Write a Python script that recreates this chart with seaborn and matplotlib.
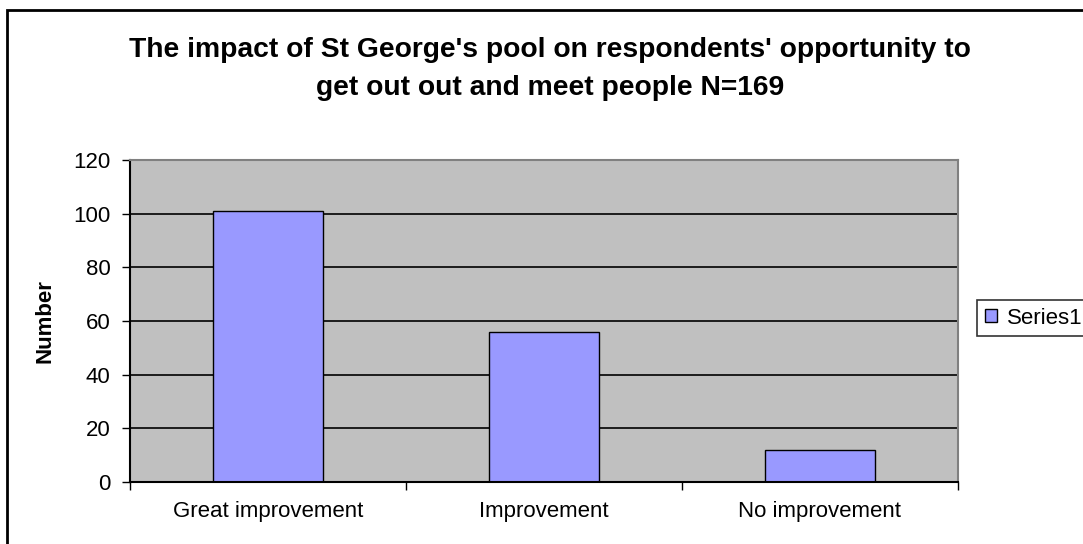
import matplotlib
matplotlib.use("Agg")
import matplotlib.pyplot as plt
import seaborn as sns
import pandas as pd
from matplotlib.patches import Rectangle

categories = ["Great improvement", "Improvement", "No improvement"]
values = [101, 56, 12]
series = ["Series1", "Series1", "Series1"]
y_ticks = [0, 20, 40, 60, 80, 100, 120]

df = pd.DataFrame({"category": categories, "count": values, "series": series})

sns.set_style("white")
plt.rcParams["font.family"] = ["Liberation Sans", "DejaVu Sans"]
plt.rcParams["text.color"] = "black"
plt.rcParams["axes.labelcolor"] = "black"
plt.rcParams["xtick.color"] = "black"
plt.rcParams["ytick.color"] = "black"

W, H = 1083, 544
fig = plt.figure(figsize=(W / 100, H / 100), dpi=100)
ax = fig.add_axes([130 / W, 1 - 482 / H, 828 / W, 322 / H])
ax.set_facecolor("#C0C0C0")

sns.barplot(data=df, x="category", y="count", hue="series", palette={"Series1": "#9999FF"},
            edgecolor="black", linewidth=1.0, width=0.4, saturation=1, ax=ax)

ax.set_ylim(0, 120)
ax.set_xlim(-0.5, 2.5)
ax.set_yticks(y_ticks)
ax.set_yticklabels([str(t) for t in y_ticks], fontsize=16)
ax.yaxis.grid(True, color="black", linewidth=1.2)
ax.set_axisbelow(True)

# category boundary ticks on x axis, labels centred under bars
ax.set_xticks([-0.5, 0.5, 1.5, 2.5], minor=False)
ax.set_xticklabels([])
ax.set_xticks([0, 1, 2], minor=True)
ax.set_xticklabels(categories, minor=True, fontsize=16)
ax.tick_params(axis="x", which="major", direction="out", length=6, width=1, color="black", bottom=True)
ax.tick_params(axis="x", which="minor", length=0, pad=14)
ax.tick_params(axis="y", direction="out", length=6, width=1, color="black", left=True, pad=8)

ax.set_xlabel("")
ax.set_ylabel("Number", fontsize=16, fontweight="bold")
ax.yaxis.set_label_coords((55 - 130) / 828, 0.5)

for side in ["left", "bottom"]:
    ax.spines[side].set_color("black")
    ax.spines[side].set_linewidth(1.5)
for side in ["top", "right"]:
    ax.spines[side].set_color("#808080")
    ax.spines[side].set_linewidth(1.5)

leg = ax.legend(loc="center left", bbox_to_anchor=(977 / W, 1 - 318 / H),
                bbox_transform=fig.transFigure, frameon=True, fancybox=False,
                fontsize=16, handlelength=0.55, handleheight=0.55, handletextpad=0.45,
                borderpad=0.35, borderaxespad=0)
leg.get_frame().set_edgecolor("black")
leg.get_frame().set_linewidth(1.2)
for h in leg.legend_handles:
    h.set_edgecolor("black")
    h.set_linewidth(1.0)

fig.text(550 / W, 1 - 57 / H, "The impact of St George's pool on respondents' opportunity to",
         ha="center", va="baseline", fontsize=20.3, fontweight="bold")
fig.text(550 / W, 1 - 95 / H, "get out out and meet people N=169",
         ha="center", va="baseline", fontsize=20.3, fontweight="bold")

# outer chart frame (right and bottom edges run past the image)
fig.patches.append(Rectangle((7 / W, -0.1), 1.2, 1.1 - 10 / H,
                             transform=fig.transFigure, fill=False,
                             edgecolor="black", linewidth=2, zorder=0))

fig.savefig("out.png", dpi=100)
